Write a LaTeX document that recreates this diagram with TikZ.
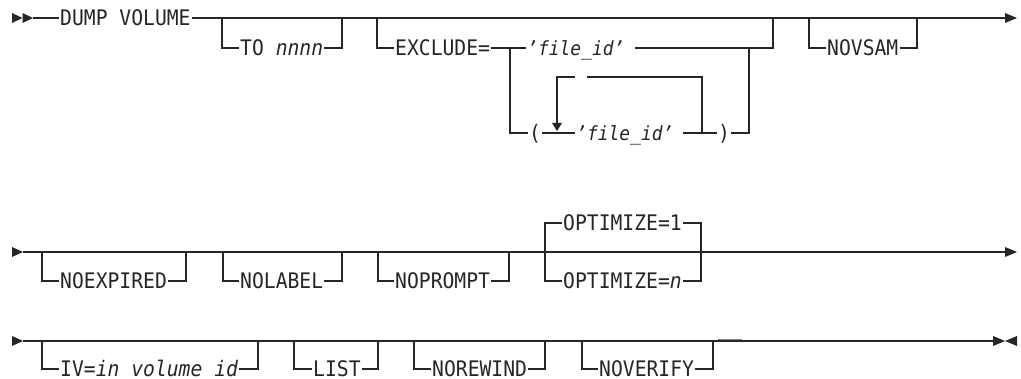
\documentclass[tikz,border=0pt]{standalone}
\usepackage{fontspec}
\setmonofont[FakeStretch=0.92]{DejaVu Sans Mono}
\definecolor{ink}{gray}{0.15}
\begin{document}
\begin{tikzpicture}[x=1pt,y=-1pt,
  rail/.style={draw=ink,line width=1.3pt},
  kw/.style={anchor=west,inner xsep=1pt,inner ysep=0pt,text height=15.6pt,text depth=0pt,
    font=\ttfamily\fontsize{21.4}{22}\selectfont,text=ink},
  var/.style={kw,font=\ttfamily\itshape\fontsize{19.5}{22}\selectfont,text height=14.2pt},
  tip/.style={fill=ink,draw=none}]
\useasboundingbox (0,0) rectangle (1021,379);

% ---------- row 1 ----------
\fill[tip] (12,13)--(22.5,18)--(12,23)--cycle;
\fill[tip] (22.5,13)--(33,18)--(22.5,23)--cycle;
\node[kw] (dump) at (59,18) {DUMP VOLUME};
\coordinate (s1) at (33,18);
\coordinate (e1) at (1006,18);
\draw[rail] (s1) -- (dump.west);
\draw[rail] (dump.east) -- (e1);
\fill[tip] (1005,13)--(1017,18)--(1005,23)--cycle;

\node[kw] (to) at (239,48) {TO \textit{nnnn}};
\draw[rail] (222,18) |- (to.west);
\draw[rail] (to.east) -| (342,18);

\node[kw] (excl) at (394,48) {EXCLUDE=};
\draw[rail] (377,18) |- (excl.west);
\node[var] (fid1) at (526,48) {’file\_id’};
\draw[rail] (excl.east) -- (fid1.west);
\coordinate (f1end) at (635,48);
\draw[rail] (f1end) -| (773,18);

\node[kw] (lp) at (528,133) {(};
\draw[rail] (510,48) |- (lp.west);
\node[var] (fid2) at (575,133) {’file\_id’};
\draw[rail] (lp.east) -- (fid2.west);
\node[kw] (rp) at (717,133) {)};
\coordinate (f2end) at (683,133);
\draw[rail] (f2end) -- (rp.west);
\draw[rail] (rp.east) -| (749,48);
% repeat loop
\draw[rail] (557,123) -- (557,77) -- (575,77);
\draw[rail] (587,77) -| (702,133);
\fill[tip] (552,123)--(562,123)--(557,131)--cycle;

\node[kw] (novsam) at (826,48) {NOVSAM};
\draw[rail] (809,18) |- (novsam.west);
\draw[rail] (novsam.east) -| (917,18);

% ---------- row 2 ----------
\fill[tip] (12,247)--(23,252)--(12,257)--cycle;
\coordinate (s2) at (23,252);
\coordinate (e2) at (1006,252);
\draw[rail] (s2) -- (e2);
\fill[tip] (1005,247)--(1017,252)--(1005,257)--cycle;

\node[kw] (noexp) at (59,281) {NOEXPIRED};
\draw[rail] (42,252) |- (noexp.west);
\draw[rail] (noexp.east) -| (186,252);

\node[kw] (nolab) at (239,281) {NOLABEL};
\draw[rail] (223,252) |- (nolab.west);
\draw[rail] (nolab.east) -| (342,252);

\node[kw] (noprm) at (394,281) {NOPROMPT};
\draw[rail] (378,252) |- (noprm.west);
\draw[rail] (noprm.east) -| (509,252);

\node[kw] (opt1) at (562,223) {OPTIMIZE=1};
\node[kw] (optn) at (562,281) {OPTIMIZE=\textit{n}};
\draw[rail] (opt1.west) -| (545,281) -- (optn.west);
\draw[rail] (opt1.east) -| (701,281) -- (optn.east);

% ---------- row 3 ----------
\fill[tip] (12,336)--(23,341)--(12,346)--cycle;
\coordinate (s3) at (23,341);
\coordinate (e3) at (994,341);
\draw[rail] (s3) -- (e3);
\fill[tip] (993,336)--(1005,341)--(993,346)--cycle;
\fill[tip] (1017,336)--(1005,341)--(1017,346)--cycle;

\node[kw] (iv) at (59,369) {IV=\textit{in volume id}};
\draw[rail] (42,341) |- (iv.west);
\draw[rail] (iv.east) -| (258,341);

\node[kw] (list) at (312,369) {LIST};
\draw[rail] (294,341) |- (list.west);
\draw[rail] (list.east) -| (378,341);

\node[kw] (norew) at (431,369) {NOREWIND};
\draw[rail] (414,341) |- (norew.west);
\draw[rail] (norew.east) -| (545,341);

\node[kw] (nover) at (598,369) {NOVERIFY};
\draw[rail] (582,341) |- (nover.west);
\draw[rail] (nover.east) -| (713,341);

\draw[ink!55,line width=1pt] (718,339.3) -- (742,339.3);
\end{tikzpicture}
\end{document}
